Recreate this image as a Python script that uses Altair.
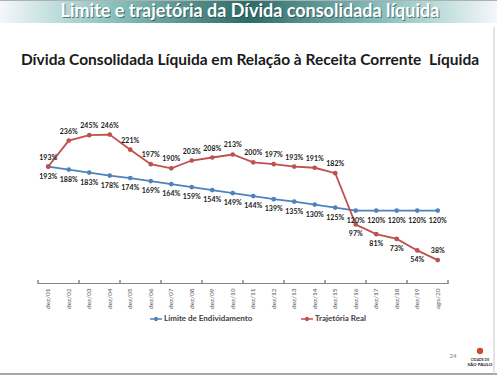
import altair as alt
import pandas as pd

categories = ["dez/01", "dez/02", "dez/03", "dez/04", "dez/05", "dez/06", "dez/07",
              "dez/08", "dez/09", "dez/10", "dez/11", "dez/12", "dez/13", "dez/14",
              "dez/15", "dez/16", "dez/17", "dez/18", "dez/19", "ago/20"]
limite = [193, 188, 183, 178, 174, 169, 164, 159, 154, 149, 144, 139, 135, 130, 125,
          120, 120, 120, 120, 120]
real = [193, 236, 245, 246, 221, 197, 190, 203, 208, 213, 200, 197, 193, 191, 182,
        97, 81, 73, 54, 38]
real_label_below = [False] * 15 + [True] * 4 + [False]

series_names = ["Limite de Endividamento", "Trajetória Real"]
series_colors = ["#4F81BD", "#C0504D"]

header_text = "Limite e trajetória da Dívida consolidada líquida"
title_text = "Dívida Consolidada Líquida em Relação à Receita Corrente\u00a0 Líquida"
page_number = "24"

FONT = "Lato"
W, H = 410, 181

rows = []
for i, c in enumerate(categories):
    rows.append({"cat": c, "idx": i, "serie": series_names[0], "valor": limite[i],
                 "label": f"{limite[i]}%", "pos": "below"})
    rows.append({"cat": c, "idx": i, "serie": series_names[1], "valor": real[i],
                 "label": f"{real[i]}%", "pos": "below" if real_label_below[i] else "above"})
df = pd.DataFrame(rows)

xenc = alt.X("cat:N", sort=categories, title=None,
             scale=alt.Scale(type="band", paddingInner=0, paddingOuter=0),
             axis=alt.Axis(labelAngle=270, ticks=False, domainColor="#868686",
                           domainWidth=1, labelFontSize=6.5, labelColor="#595959",
                           labelFont=FONT, labelPadding=5, grid=False))
yenc = alt.Y("valor:Q", scale=alt.Scale(domain=[0, 300]), axis=None)
color_scale = alt.Scale(domain=series_names, range=series_colors)

legend = alt.Legend(title=None, orient="none", legendX=112, legendY=211,
                    direction="horizontal",
                    symbolType="M-1,-0.12H1V0.12H-1Z M0.36,0A0.36,0.36 0 1,1 -0.36,0A0.36,0.36 0 1,1 0.36,0Z",
                    symbolSize=144, symbolStrokeWidth=0,
                    labelFont=FONT, labelFontSize=8, labelFontWeight="bold",
                    labelColor="#404040", labelOffset=2,
                    columnPadding=48, labelLimit=200)
cenc = alt.Color("serie:N", scale=color_scale, legend=legend)

base = alt.Chart(df)

lines = base.mark_line(strokeWidth=1.8).encode(x=xenc, y=yenc, color=cenc)
points = base.mark_point(filled=True, size=22, opacity=1).encode(x=xenc, y=yenc, color=cenc)

lab_below = base.transform_filter(alt.datum.pos == "below").mark_text(
    font=FONT, fontSize=7, fontWeight="bold", color="#1a1a1a", dy=10).encode(
    x=xenc, y=yenc, text="label:N")
lab_above = base.transform_filter(alt.datum.pos == "above").mark_text(
    font=FONT, fontSize=7, fontWeight="bold", color="#1a1a1a", dy=-9).encode(
    x=xenc, y=yenc, text="label:N")

# axis ticks every two categories (band boundaries)
ticks_a = base.transform_filter("datum.idx % 2 == 0").mark_rule(
    color="#868686", strokeWidth=1).encode(
    x=alt.X("cat:N", sort=categories, bandPosition=0),
    y=alt.value(H - 3), y2=alt.value(H + 1))
ticks_b = base.transform_filter(f"datum.idx == {len(categories) - 1}").mark_rule(
    color="#868686", strokeWidth=1).encode(
    x=alt.X("cat:N", sort=categories, bandPosition=1),
    y=alt.value(H - 3), y2=alt.value(H + 1))

one = alt.Data(values=[{"a": 1}])

header = alt.Chart(one).mark_rect(
    fill=alt.LinearGradient(gradient="linear", x1=0, x2=1, y1=0, y2=0,
                            stops=[alt.GradientStop(color="#f4f7fb", offset=0),
                                   alt.GradientStop(color="#8cc3bf", offset=0.22),
                                   alt.GradientStop(color="#2d6b68", offset=0.5),
                                   alt.GradientStop(color="#8cc3bf", offset=0.78),
                                   alt.GradientStop(color="#f4f7fb", offset=1)])).encode(
    x=alt.value(-38), x2=alt.value(459), y=alt.value(-101), y2=alt.value(-79))
header_top = alt.Chart(one).mark_rule(color="#b0b0b0", strokeWidth=1).encode(
    x=alt.value(-38), x2=alt.value(459), y=alt.value(-101.5))
header_shadow = alt.Chart(one).mark_text(
    text=header_text, font=FONT, fontSize=18, fontWeight="bold", color="#1e3d3c",
    opacity=0.6, align="center", baseline="middle").encode(
    x=alt.value(212 + 1), y=alt.value(-90 + 1))
header_t = alt.Chart(one).mark_text(
    text=header_text, font=FONT, fontSize=18, fontWeight="bold", color="#ffffff",
    align="center", baseline="middle").encode(x=alt.value(212), y=alt.value(-90))
title = alt.Chart(one).mark_text(
    text=title_text, font=FONT, fontSize=15.5, fontWeight="bold", color="#1a1a1a",
    align="center", baseline="middle").encode(x=alt.value(212), y=alt.value(-42))
page = alt.Chart(one).mark_text(
    text=page_number, font=FONT, fontSize=6, color="#7f7f7f",
    align="center", baseline="middle").encode(x=alt.value(415), y=alt.value(254))
logo_dot = alt.Chart(one).mark_point(
    filled=True, shape="circle", size=40, color="#d04a2a", opacity=1).encode(
    x=alt.value(442), y=alt.value(249))
logo_t1 = alt.Chart(one).mark_text(
    text="CIDADE DE", font=FONT, fontSize=3.5, fontWeight="bold", color="#333333",
    align="center").encode(x=alt.value(442), y=alt.value(258))
logo_t2 = alt.Chart(one).mark_text(
    text="SÃO PAULO", font=FONT, fontSize=4.5, fontWeight="bold", color="#222222",
    align="center").encode(x=alt.value(442), y=alt.value(263))
bottom_line = alt.Chart(one).mark_rule(color="#a6a6a6", strokeWidth=2).encode(
    x=alt.value(-38), x2=alt.value(459), y=alt.value(272))
right_line = alt.Chart(one).mark_rule(color="#c8c8c8", strokeWidth=1).encode(
    x=alt.value(456), y=alt.value(-75), y2=alt.value(273))

chart = alt.layer(
    header, header_top, header_shadow, header_t, title,
    ticks_a, ticks_b, lines, points, lab_below, lab_above,
    page, logo_dot, logo_t1, logo_t2, bottom_line, right_line
).properties(
    width=W, height=H,
    padding={"left": 38, "top": 102, "right": 49, "bottom": 92},
    autosize=alt.AutoSizeParams(type="none"),
    background="white"
).configure_view(stroke=None)

chart.save("out.html", embed_options={"renderer": "svg", "actions": False})
